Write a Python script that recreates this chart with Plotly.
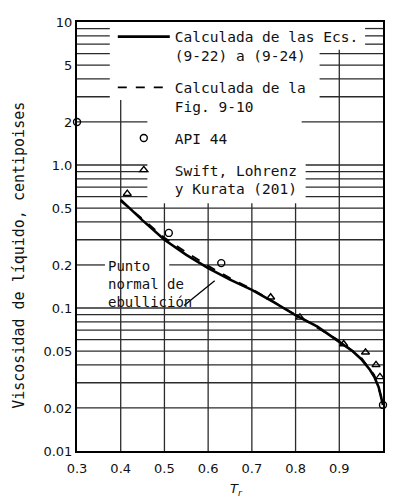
import plotly.graph_objects as go
import numpy as np

# ---------------- data ----------------
tr_solid = [0.40, 0.45, 0.50, 0.55, 0.60, 0.65, 0.70, 0.75, 0.80, 0.85, 0.90, 0.93, 0.95, 0.97, 0.98, 0.99, 1.00]
mu_solid = [0.57, 0.41, 0.30, 0.235, 0.19, 0.158, 0.134, 0.11, 0.089, 0.074, 0.058, 0.050, 0.044, 0.037, 0.033, 0.028, 0.021]

tr_dash = [0.40, 0.45, 0.50, 0.55, 0.60, 0.65, 0.70, 0.80, 0.90, 0.95, 0.98, 1.00]
mu_dash = [0.56, 0.42, 0.31, 0.245, 0.197, 0.162, 0.136, 0.090, 0.059, 0.045, 0.034, 0.022]

tr_api = [0.30, 0.51, 0.63, 1.00]
mu_api = [2.0, 0.335, 0.206, 0.021]

tr_swift = [0.415, 0.743, 0.81, 0.91, 0.96, 0.984, 0.993]
mu_swift = [0.63, 0.119, 0.086, 0.056, 0.049, 0.040, 0.033]

x_ticks = [0.3, 0.4, 0.5, 0.6, 0.7, 0.8, 0.9, 1.0]
x_ticktext = ["0.3", "0.4", "0.5", "0.6", "0.7", "0.8", "0.9", "1.0"]
y_ticks = [0.01, 0.02, 0.05, 0.1, 0.2, 0.5, 1.0, 2, 5, 10]
y_ticktext = ["0.01", "0.02", "0.05", "0.1", "0.2", "0.5", "1.0", "2", "5", "10"]

legend_names = ["Calculada de las Ecs.<br>(9-22) a (9-24)",
                "Calculada de la<br>Fig. 9-10",
                "API 44",
                "Swift, Lohrenz<br>y Kurata (201)"]

FONT = "DejaVu Sans"
LFONT = "DejaVu Sans Mono"
GRID = "#2b2b2b"

fig = go.Figure()
fig.add_trace(go.Scatter(x=tr_solid, y=mu_solid, mode="lines", name=legend_names[0],
                         line=dict(color="black", width=2.6), legendgroup="a"))
fig.add_trace(go.Scatter(x=tr_dash, y=mu_dash, mode="lines", name=legend_names[1],
                         line=dict(color="black", width=1.8, dash="dash"), legendgroup="b"))
fig.add_trace(go.Scatter(x=tr_api, y=mu_api, mode="markers", name=legend_names[2],
                         marker=dict(symbol="circle-open", size=7, color="black", line=dict(width=1.4)),
                         cliponaxis=False, legendgroup="c"))
fig.add_trace(go.Scatter(x=tr_swift, y=mu_swift, mode="markers", name=legend_names[3],
                         marker=dict(symbol="triangle-up-open", size=7, color="black", line=dict(width=1.4)),
                         cliponaxis=False, legendgroup="d"))

# ---------------- grid (drawn as segments, legend area left blank) ----------------
shapes = []
def hseg(v, x0, x1):
    shapes.append(dict(type="line", xref="x", yref="y", x0=x0, x1=x1, y0=v, y1=v,
                       line=dict(color=GRID, width=1.3), layer="below"))
def vseg(v, y0, y1):
    shapes.append(dict(type="line", xref="x", yref="y", x0=v, x1=v, y0=y0, y1=y1,
                       line=dict(color=GRID, width=1.3), layer="below"))

for dec in [0.01, 0.1, 1.0]:
    for m in range(2, 11):
        v = round(m * dec, 4)
        if v >= 10:
            continue
        if v in (9.0, 8.0, 7.0):
            hseg(v, 0.3, 0.375); hseg(v, 0.959, 1.0)
        elif v in (6.0, 5.0, 4.0, 3.0):
            hseg(v, 0.3, 0.375); hseg(v, 0.855, 1.0)
        elif v == 2.0:
            hseg(v, 0.3, 0.461); hseg(v, 0.814, 1.0)
        elif v in (1.0, 0.9, 0.8, 0.7, 0.6):
            hseg(v, 0.3, 0.461); hseg(v, 0.823, 1.0)
        elif v == 0.2:
            hseg(v, 0.3, 0.364); hseg(v, 0.511, 1.0)
        else:
            hseg(v, 0.3, 1.0)

vseg(0.4, 0.01, 2.85)
for v in [0.5, 0.6, 0.7, 0.8]:
    vseg(v, 0.01, 0.54)
vseg(0.9, 0.01, 6.4)

# pointer for boiling point label
shapes.append(dict(type="line", xref="x", yref="y", x0=0.545, y0=0.104, x1=0.615, y1=0.155,
                   line=dict(color="black", width=1.3)))

annotations = [
    dict(text="Punto<br>normal de<br>ebullición", xref="x", yref="y", x=0.366, y=np.log10(0.2),
         xanchor="left", yanchor="top", yshift=9, showarrow=False, align="left",
         font=dict(family=LFONT, size=14, color="#111")),
    dict(text="Viscosidad de líquido, centipoises", xref="paper", yref="paper", x=0, y=0.455,
         xshift=-58, textangle=-90, showarrow=False, xanchor="center", yanchor="middle",
         font=dict(family=LFONT, size=15, color="#111")),
    dict(text="<i>T<sub>r</sub></i>", xref="paper", yref="paper", x=0.52, y=0, yshift=-38,
         showarrow=False, xanchor="center", yanchor="middle",
         font=dict(family=FONT, size=13, color="#111")),
]

fig.update_layout(
    width=393, height=501,
    margin=dict(l=77, r=8, t=22, b=50),
    paper_bgcolor="white", plot_bgcolor="white",
    shapes=shapes, annotations=annotations,
    font=dict(family=FONT, size=13, color="#111"),
    legend=dict(x=0.117, y=1.003, xanchor="left", yanchor="top", bgcolor="rgba(0,0,0,0)",
                font=dict(family=LFONT, size=14.5, color="#111"), valign="top",
                tracegroupgap=10, traceorder="grouped", itemwidth=52),
    showlegend=True,
)
fig.update_xaxes(range=[0.3, 1.0], tickvals=x_ticks, ticktext=x_ticktext, showgrid=False,
                 zeroline=False, showline=True, linecolor="black", linewidth=2, mirror=True,
                 ticks="outside", ticklen=4, tickcolor="white", tickfont=dict(size=13, family=FONT))
fig.update_yaxes(type="log", range=[-2, 1], tickvals=y_ticks, ticktext=y_ticktext, showgrid=False,
                 zeroline=False, showline=True, linecolor="black", linewidth=2, mirror=True,
                 ticks="", tickfont=dict(size=13, family=FONT))

fig.write_html("out.html")
